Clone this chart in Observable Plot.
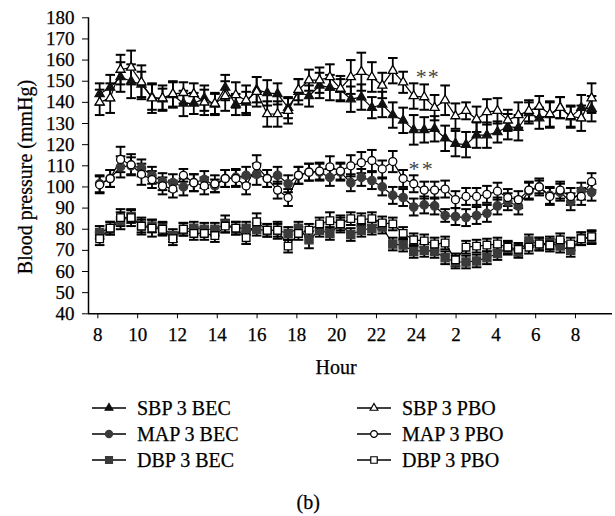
<!DOCTYPE html>
<html><head><meta charset="utf-8">
<script src="https://cdn.jsdelivr.net/npm/d3@7"></script>
<script src="https://cdn.jsdelivr.net/npm/@observablehq/plot@0.6"></script>
<style>
html,body{margin:0;padding:0;background:#fff;overflow:hidden;}
#wrap{position:relative;width:615px;height:516px;font-family:"Liberation Serif",serif;color:#000;}
#chart svg{display:block;max-width:none;}
.lbl{position:absolute;font-size:20px;line-height:1;white-space:nowrap;-webkit-text-stroke:0.25px #000;}
.leg{position:absolute;display:flex;align-items:center;font-size:20px;line-height:1;white-space:nowrap;-webkit-text-stroke:0.25px #000;}
.leg svg{margin-right:11px;}
</style></head><body>
<div id="wrap"><div id="chart"></div></div>
<script>
const hours = [8.09,8.62,9.14,9.67,10.19,10.72,11.25,11.77,12.3,12.82,13.35,13.88,14.4,14.93,15.45,15.98,16.51,17.03,17.56,18.08,18.61,19.14,19.66,20.19,20.71,21.24,21.77,22.29,22.82,23.34,23.87,24.4,24.92,25.45,25.97,26.5,27.03,27.55,28.08,28.6,29.13,29.66,30.18,30.71,31.23,31.76,32.29,32.81];
const xTicks = [8,10,12,14,16,18,20,22,24,26,28,30,32];
const xTickLabels = ["8","10","12","14","16","18","20","22","24","2","4","6","8"];
const yTicks = [40,50,60,70,80,90,100,110,120,130,140,150,160,170,180];

const sbpBEC = [144,147,152,150,148.5,142.5,141.5,143.5,139.5,139.5,142,139,147,139,140,146,144.5,144,137.5,145,143,148,147,146,141.5,142.5,137.5,139,134,131.5,127,127,127.5,123,120.5,120,124.5,124.5,126,128.5,128,135,132.5,134,137.5,133,137.5,137];
const sbpPBO = [140,142,155.5,156.5,149.5,142,142,144,144.5,144,140,139.5,143,143.5,141,145,134.5,134.5,136,146,150.5,150.5,152,146.5,152,154.5,152,148,155,149.5,143,142.5,137.5,141,133.5,136,132,135.5,136,131.5,134,136,138,134.5,137.5,133.5,132.5,142];
const mapBEC = [101.5,104,109.5,110,109,105.5,102.5,102,100,102,103.5,100.5,104,104.5,105.5,106,104,105.5,101.5,105.5,107,107,104.5,107,102,104.5,103,100,96,95,90.5,91.5,91,86.5,86,85.5,86.5,87.5,91,93,91,98,100,96,97.5,93,98,97.5];
const mapPBO = [101,104,113,110.5,106,103.5,100.5,99,105.5,102,100.5,101.5,104,104,100.5,110,104,98.5,95,105.5,107,107.5,109.5,107.5,110,111.5,112.5,108.5,112,104,101.5,98.5,98.5,99,94,95.5,95.5,96.5,98,95,94,98.5,100,95.5,98.5,95.5,95.5,102.5];
const dbpBEC = [78.5,80.5,84,86,81.5,81.5,80.5,77,80,80.5,80,80,82.5,80.5,80.5,80,79.5,79.5,78,80.5,75,79.5,78,82.5,77.5,79.5,80.5,81,73,72.5,69.5,70,69.5,66.5,64.5,64.5,65,66.5,68.5,71,69.5,74.5,73,73.5,72,70,75.5,76];
const dbpPBO = [75.5,80.5,85.5,85.5,81.5,80.5,80,75.5,80,78,78,77,81.5,80.5,76,83.5,79.5,79.5,72,78,79.5,82.5,84,82.5,85,84.5,85,83,82.5,78,75,74.5,73,73.5,65.5,71.5,72,72.5,73,71.5,70.5,71.5,73,72.5,75,73,75.5,76.5];

const sbpBECerr = [5,6,7,8,6,6,5,6,6,5,6,5,6,5,5,6,6,5,5,6,5,6,6,5,6,6,5,6,6,6,7,6,6,6,6,6,6,6,5,6,6,5,5,6,5,5,6,6];
const sbpPBOerr = [6,7,7,8,8,7,6,6,5,5,6,5,7,6,7,7,6,6,6,5,5,6,6,6,8,9,7,6,6,5,6,6,6,7,6,4,6,6,6,5,6,5,5,6,5,5,6,7];
const mapBECerr = [4,4,5,4,4,4,4,4,4,4,4,3,4,4,4,5,4,4,4,4,4,4,4,4,4,4,4,4,4,4,4,4,4,3,4,4,4,4,4,4,4,4,3,4,4,4,4,4];
const mapPBOerr = [4,4,6,5,5,4,4,4,3,4,4,4,4,4,4,5,4,4,4,4,4,4,5,4,5,5,5,4,5,4,4,4,4,4,4,4,4,4,4,4,4,4,4,4,4,4,4,4];
const dbpBECerr = [3,3,4,3,4,3,3,3,3,3,3,3,4,3,3,3,3,4,3,3,4,3,3,4,3,3,3,3,3,3,3,3,3,3,3,3,3,3,3,3,3,3,3,3,3,3,3,3];
const dbpPBOerr = [3,3,4,4,3,4,3,3,3,3,3,3,3,3,3,4,3,3,3,3,3,3,4,3,3,3,3,3,3,3,3,3,3,3,3,3,3,3,3,3,3,3,3,3,3,3,3,3];

const seriesNames = ["SBP 3 BEC","MAP 3 BEC","DBP 3 BEC","SBP 3 PBO","MAP 3 PBO","DBP 3 PBO"];
const starX = [24.25, 24.85, 23.88, 24.55];
const starY = [152.2, 152.2, 108.5, 108.5];

const series = [
  {name:"SBP 3 BEC", v:sbpBEC, e:sbpBECerr, symbol:"triangle", fill:"#111", r:3.4},
  {name:"MAP 3 BEC", v:mapBEC, e:mapBECerr, symbol:"circle", fill:"#3a3a3a", r:4.2},
  {name:"DBP 3 BEC", v:dbpBEC, e:dbpBECerr, symbol:"square", fill:"#3a3a3a", r:4.6},
  {name:"SBP 3 PBO", v:sbpPBO, e:sbpPBOerr, symbol:"triangle", fill:"#fff", r:3.4},
  {name:"MAP 3 PBO", v:mapPBO, e:mapPBOerr, symbol:"circle", fill:"#fff", r:4.0},
  {name:"DBP 3 PBO", v:dbpPBO, e:dbpPBOerr, symbol:"square", fill:"#fff", r:4.3}
];
const rows = series.flatMap(s => s.v.map((y,i) => ({series:s.name, x:hours[i], y, err:s.e[i]})));
const stars = starX.map((x,i)=>({x, y:starY[i]}));

const cap = {draw(ctx, size){const w=Math.sqrt(size/Math.PI); ctx.moveTo(-w,0); ctx.lineTo(w,0);}};

const marks = [
  Plot.ruleY([40], {stroke:"black", strokeWidth:1.5}),
  Plot.ruleX([7.53], {stroke:"black", strokeWidth:1.5}),
  Plot.axisX({ticks:xTicks, tickFormat:(d)=>xTickLabels[xTicks.indexOf(d)], tickSize:5, tickPadding:9, fontSize:19, label:null}),
  Plot.axisY({ticks:yTicks, tickSize:6, tickPadding:8, fontSize:19, label:null}),
  Plot.line(rows, {x:"x", y:"y", z:"series", stroke:"black", strokeWidth:1.2}),
  Plot.ruleX(rows, {x:"x", y1:d=>d.y-d.err, y2:d=>d.y+d.err, stroke:"black", strokeWidth:1.8}),
  Plot.dot(rows, {x:"x", y:d=>d.y+d.err, symbol:cap, r:4.8, stroke:"black", strokeWidth:2}),
  Plot.dot(rows, {x:"x", y:d=>d.y-d.err, symbol:cap, r:4.8, stroke:"black", strokeWidth:2}),
];
for (const s of series) {
  marks.push(Plot.dot(rows.filter(d=>d.series===s.name), {x:"x", y:"y", symbol:s.symbol, r:s.r, fill:s.fill, stroke: s.fill==="#fff" ? "black" : s.fill, strokeWidth:1.3}));
}
marks.push(Plot.text(stars, {x:"x", y:"y", text:()=>"*", fontSize:22, fill:"#444", fontFamily:"Liberation Serif"}));

const chart = Plot.plot({
  width:615, height:378,
  marginLeft:88, marginRight:3, marginTop:17.3, marginBottom:64.7,
  style:{fontFamily:"Liberation Serif", fontSize:"19px", background:"white", color:"black", overflow:"visible"},
  x:{domain:[7.53,33.86]},
  y:{domain:[40,180]},
  marks
});
document.getElementById("chart").appendChild(chart);
chart.querySelectorAll("g[aria-label*='tick label'] text").forEach(t => { t.style.fontSize = "19px"; t.style.stroke = "#000"; t.style.strokeWidth = "0.25px"; });

const wrap = document.getElementById("wrap");
function addLabel(text, cx, cy, rotate){
  const d = document.createElement("div"); d.className="lbl"; d.textContent=text;
  wrap.appendChild(d);
  const w = d.offsetWidth, h = d.offsetHeight;
  d.style.left = (cx - w/2)+"px"; d.style.top = (cy - h/2)+"px";
  if (rotate) d.style.transform = "rotate(-90deg)";
}
addLabel("Blood pressure (mmHg)", 25, 177, true);
addLabel("Hour", 336, 367);
addLabel("(b)", 308, 502);

const legPos = [[92,408],[92,433.5],[92,460],[357,408],[357,433.5],[357,460]];
series.forEach((s,i)=>{
  const d = document.createElement("div"); d.className="leg";
  const [lx, ly] = legPos[i];
  const ns="http://www.w3.org/2000/svg";
  const svg=document.createElementNS(ns,"svg"); svg.setAttribute("width",34); svg.setAttribute("height",14);
  const ln=document.createElementNS(ns,"line"); ln.setAttribute("x1",0); ln.setAttribute("x2",34); ln.setAttribute("y1",7); ln.setAttribute("y2",7); ln.setAttribute("stroke","black"); ln.setAttribute("stroke-width",1.5);
  svg.appendChild(ln);
  const sym = {triangle:d3.symbolTriangle, circle:d3.symbolCircle, square:d3.symbolSquare}[s.symbol];
  const p=document.createElementNS(ns,"path");
  p.setAttribute("d", d3.symbol(sym, Math.PI*Math.pow(s.r*0.85,2))());
  p.setAttribute("transform","translate(17,7)");
  p.setAttribute("fill", s.fill); p.setAttribute("stroke", s.fill==="#fff"?"black":s.fill); p.setAttribute("stroke-width",1.2);
  svg.appendChild(p);
  d.appendChild(svg);
  const t=document.createElement("span"); t.textContent=s.name; d.appendChild(t);
  wrap.appendChild(d);
  d.style.left = lx+"px"; d.style.top = (ly - d.offsetHeight/2)+"px";
});
</script>
</body></html>
